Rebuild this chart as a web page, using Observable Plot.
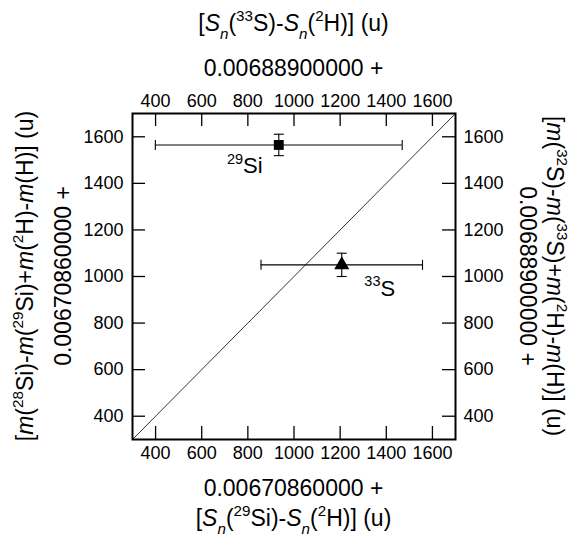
<!DOCTYPE html>
<html><head><meta charset="utf-8">
<script src="https://cdn.jsdelivr.net/npm/d3@7"></script>
<script src="https://cdn.jsdelivr.net/npm/@observablehq/plot@0.6"></script>
<style>body{margin:0;background:#fff} svg{display:block}</style>
</head><body><div id="chart"></div>
<script>
const isotopes = ["29Si", "33S"];
const xValues = [934, 1207];
const xErrors = [535, 350];
const yValues = [1565, 1050];
const yErrors = [46, 50];
const markers = ["square", "triangle"];
const ticks = [400, 600, 800, 1000, 1200, 1400, 1600];
const domain = [300, 1700];
const diagonal = domain.map(v => ({x: v, y: v}));
const topOffset = "0.00688900000 +";
const bottomOffset = "0.00670860000 +";

const data = isotopes.map((iso, i) => ({iso, x: xValues[i], xe: xErrors[i], y: yValues[i], ye: yErrors[i]}));

const W = 570, H = 540, mL = 132, mR = 115, mT = 113, mB = 101;
const innerH = H - mT - mB, innerW = W - mL - mR;
const tk = 13;
const font = "'Liberation Sans', Arial, Helvetica, sans-serif";

const capV = {draw(ctx, size) { const r = Math.sqrt(size / Math.PI); ctx.moveTo(0, -r); ctx.lineTo(0, r); }};
const capH = {draw(ctx, size) { const r = Math.sqrt(size / Math.PI); ctx.moveTo(-r, 0); ctx.lineTo(r, 0); }};

const tickStyle = {stroke: "#000", strokeOpacity: 1, strokeWidth: 1.3};
const fmt = d => String(d);

const plot = Plot.plot({
  width: W, height: H, marginLeft: mL, marginRight: mR, marginTop: mT, marginBottom: mB,
  style: {fontFamily: font, fontSize: "18px", color: "#000", background: "#fff", overflow: "visible"},
  x: {domain}, y: {domain},
  symbol: {domain: isotopes, range: markers},
  marks: [
    Plot.gridX(ticks, {...tickStyle, insetBottom: innerH - tk}),
    Plot.gridX(ticks, {...tickStyle, insetTop: innerH - tk}),
    Plot.gridY(ticks, {...tickStyle, insetRight: innerW - tk}),
    Plot.gridY(ticks, {...tickStyle, insetLeft: innerW - tk}),
    Plot.axisX(ticks, {anchor: "top", tickSize: 0, tickPadding: 7, label: null, tickFormat: fmt}),
    Plot.axisX(ticks, {anchor: "bottom", tickSize: 0, tickPadding: 7, label: null, tickFormat: fmt}),
    Plot.axisY(ticks, {anchor: "left", tickSize: 0, tickPadding: 9, label: null, tickFormat: fmt}),
    Plot.axisY(ticks, {anchor: "right", tickSize: 0, tickPadding: 8, label: null, tickFormat: fmt}),
    Plot.line(diagonal, {x: "x", y: "y", stroke: "#000", strokeWidth: 0.8}),
    Plot.ruleY(data, {y: "y", x1: d => d.x - d.xe, x2: d => d.x + d.xe, stroke: "#000", strokeWidth: 1.1}),
    Plot.ruleX(data, {x: "x", y1: d => d.y - d.ye, y2: d => d.y + d.ye, stroke: "#000", strokeWidth: 1.1}),
    Plot.dot(data, {x: d => d.x - d.xe, y: "y", symbol: capV, r: 5, stroke: "#000", fill: "none", strokeWidth: 1.1}),
    Plot.dot(data, {x: d => d.x + d.xe, y: "y", symbol: capV, r: 5, stroke: "#000", fill: "none", strokeWidth: 1.1}),
    Plot.dot(data, {x: "x", y: d => d.y - d.ye, symbol: capH, r: 5, stroke: "#000", fill: "none", strokeWidth: 1.1}),
    Plot.dot(data, {x: "x", y: d => d.y + d.ye, symbol: capH, r: 5, stroke: "#000", fill: "none", strokeWidth: 1.1}),
    Plot.dot(data, {x: "x", y: "y", symbol: "iso", r: 5.6, fill: "#000", stroke: null}),
    Plot.text(data.filter(d => d.iso === "29Si"), {x: "x", y: "y", text: "iso", dx: -34, dy: 21, fontSize: 22}),
    Plot.text(data.filter(d => d.iso === "33S"), {x: "x", y: "y", text: "iso", dx: 38, dy: 24, fontSize: 22}),
    Plot.frame({stroke: "#000", strokeWidth: 2})
  ]
});
document.getElementById("chart").append(plot);

const svg = d3.select(plot);

function fill(sel, segs, size) {
  let off = 0;
  for (const [t, kind] of segs) {
    const ts = sel.append("tspan").text(t);
    let target = 0, fs = size;
    if (kind === "sup") { target = -0.43 * size; fs = 0.66 * size; }
    if (kind === "sub") { target = 0.33 * size; fs = 0.66 * size; }
    if (kind === "sub" || kind === "it") ts.attr("font-style", "italic");
    ts.attr("font-size", fs);
    if (target !== off) { ts.attr("dy", target - off); off = target; }
  }
}

// isotope labels with superscripts
svg.selectAll("text").each(function () {
  const t = this.textContent;
  if (isotopes.includes(t) && this.childNodes.length === 1) {
    const m = t.match(/^(\d+)(\D+)$/);
    const s = d3.select(this);
    s.text("");
    fill(s, [[m[1], "sup"], [m[2], ""]], 22);
  }
});

function title(x, y, rot, size, segs) {
  const t = svg.append("text")
    .attr("transform", `translate(${x},${y}) rotate(${rot})`)
    .attr("text-anchor", "middle")
    .attr("font-family", font)
    .attr("font-size", size)
    .attr("fill", "#000");
  fill(t, segs, size);
}

const cx = mL + innerW / 2, cy = mT + innerH / 2;
const topTitle = [["[", ""], ["S", "it"], ["n", "sub"], ["(", ""], ["33", "sup"], ["S)-", ""], ["S", "it"], ["n", "sub"], ["(", ""], ["2", "sup"], ["H)] (u)", ""]];
const bottomTitle = [["[", ""], ["S", "it"], ["n", "sub"], ["(", ""], ["29", "sup"], ["Si)-", ""], ["S", "it"], ["n", "sub"], ["(", ""], ["2", "sup"], ["H)] (u)", ""]];
const leftTitle = [["[", ""], ["m", "it"], ["(", ""], ["28", "sup"], ["Si)-", ""], ["m", "it"], ["(", ""], ["29", "sup"], ["Si)+", ""], ["m", "it"], ["(", ""], ["2", "sup"], ["H)-", ""], ["m", "it"], ["(H)] (u)", ""]];
const rightTitle = [["[", ""], ["m", "it"], ["(", ""], ["32", "sup"], ["S)-", ""], ["m", "it"], ["(", ""], ["33", "sup"], ["S)+", ""], ["m", "it"], ["(", ""], ["2", "sup"], ["H)-", ""], ["m", "it"], ["(H)] (u)", ""]];

const ts = 23;
title(cx, 31, 0, ts, topTitle);
title(cx, 76, 0, ts, [[topOffset, ""]]);
title(cx, 496, 0, ts, [[bottomOffset, ""]]);
title(cx, 526, 0, ts, bottomTitle);
title(33, cy, -90, ts, leftTitle);
title(71, cy, -90, ts, [[bottomOffset, ""]]);
title(520, cy, 90, ts, [[topOffset, ""]]);
title(547, cy, 90, ts, rightTitle);
</script>
</body></html>
